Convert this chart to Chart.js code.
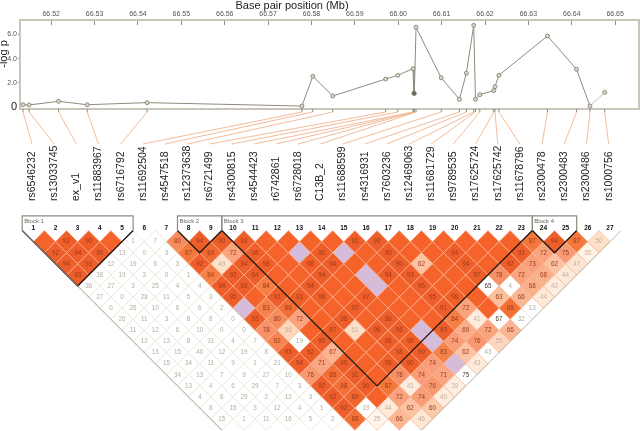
<!DOCTYPE html>
<html>
<head>
<meta charset="utf-8">
<script src="https://cdn.jsdelivr.net/npm/chart.js@4/dist/chart.umd.min.js"></script>
<style>
  html, body { margin: 0; background: #fff; }
  #wrap { position: relative; width: 640px; height: 431px; overflow: hidden; }
  canvas { position: absolute; left: 0; top: 0; }
</style>
</head>
<body>
<div id="wrap">
  <canvas id="assoc" width="640" height="431"></canvas>
  <canvas id="ld" width="640" height="431"></canvas>
</div>
<script>
const snpNames = ['rs6546232', 'rs13033745', 'ex_v1', 'rs11883967', 'rs6716792', 'rs11692504', 'rs4547518',
  'rs12373638', 'rs6721499', 'rs4300815', 'rs4544423', 'r6742861', 'rs6728018', 'C13B_2', 'rs11688599',
  'rs4316931', 'rs7603236', 'rs12469063', 'rs11681729', 'rs9789535', 'rs17625724', 'rs17625742',
  'rs11678796', 'rs2300478', 'rs2300483', 'rs2300486', 'rs1000756'];
const positionsMb = [66.5135, 66.5149, 66.5217, 66.5283, 66.5421, 66.5778, 66.5803, 66.5849, 66.5971,
  66.5999, 66.6034, 66.6036, 66.6037, 66.6041, 66.6099, 66.6141, 66.6157, 66.6174, 66.6178, 66.6188,
  66.6220, 66.6223, 66.6232, 66.6344, 66.6411, 66.6442, 66.6476];
const logP = [0.19, 0.17, 0.47, 0.19, 0.36, 0.08, 2.54, 0.91, 2.31, 2.62, 3.17, 1.13, 1.12, 6.59, 2.42,
  0.64, 2.79, 6.75, 0.64, 1.02, 1.35, 1.68, 2.62, 5.87, 3.12, 0.08, 1.21];

// D' values by distance between markers, first cell of each row is marker 1. 100 has no printed number
const ldRow1 = [100, 92, 90, 100, 1, 7, 80, 94, 90, 93, 100, 100, 100, 100, 91, 93, 100, 100, 100, 100, 100, 100, 87, 94, 87, 50];
const ldRow2 = [92, 94, 90, 13, 0, 3, 87, 89, 72, 98, 100, 100, 90, 100, 100, 90, 100, 100, 94, 100, 100, 92, 72, 75, 35];
const ldRow3 = [94, 93, 12, 19, 6, 3, 92, 49, 94, 98, 100, 98, 94, 100, 100, 90, 62, 100, 94, 100, 92, 73, 62, 47];
const ldRow4 = [93, 36, 19, 3, 0, 1, 84, 93, 94, 100, 100, 94, 100, 100, 94, 93, 100, 100, 97, 78, 72, 68, 44];
const ldRow5 = [36, 27, 3, 25, 4, 4, 94, 93, 84, 100, 94, 100, 100, 100, 100, 95, 100, 100, 65, 4, 68, 42];
const ldRow6 = [27, 0, 28, 11, 5, 3, 95, 100, 91, 91, 98, 100, 97, 100, 100, 95, 98, 100, 63, 66, 44];
const ldRow7 = [0, 26, 10, 6, 6, 2, 100, 83, 88, 100, 100, 97, 100, 100, 100, 91, 72, 100, 88, 13];
const ldRow8 = [26, 11, 3, 8, 8, 0, 93, 80, 72, 100, 96, 100, 96, 100, 100, 84, 41, 67, 32];
const ldRow9 = [11, 12, 6, 10, 0, 0, 78, 56, 100, 97, 51, 96, 96, 100, 93, 69, 72, 66];
const ldRow10 = [12, 13, 8, 31, 4, 7, 82, 19, 90, 100, 100, 96, 98, 100, 74, 76, 55];
const ldRow11 = [13, 15, 40, 12, 19, 8, 93, 92, 67, 100, 100, 98, 90, 83, 62, 43];
const ldRow12 = [15, 34, 11, 9, 1, 21, 94, 71, 90, 100, 96, 90, 74, 100, 43];
const ldRow13 = [34, 13, 7, 9, 27, 10, 76, 88, 91, 100, 78, 74, 71, 75];
const ldRow14 = [13, 4, 6, 29, 7, 3, 92, 88, 90, 87, 41, 76, 39];
const ldRow15 = [4, 8, 29, 2, 12, 3, 92, 89, 100, 72, 74, 40];
const ldRow16 = [8, 15, 3, 12, 4, 1, 92, 19, 44, 62, 60];
const ldRow17 = [15, 1, 11, 16, 5, 2, 88, 25, 66, 46];
const ldRows = [ldRow1, ldRow2, ldRow3, ldRow4, ldRow5, ldRow6, ldRow7, ldRow8, ldRow9, ldRow10,
  ldRow11, ldRow12, ldRow13, ldRow14, ldRow15, ldRow16, ldRow17];

// cells that break the colour ramp
const lilacCells = ['12-14', '14-16', '14-18', '14-19', '7-14', '14-23', '14-24', '14-26'];
const whiteCells = ['8-18', '8-24', '19-24', '20-25', '18-26', '14-27', '20-27', '19-27', '16-27'];

const blockNames = ['Block 1', 'Block 2', 'Block 3', 'Block 4'];
const blockStart = [1, 8, 10, 24];
const blockEnd = [5, 9, 23, 25];

const FONT = '"Liberation Sans", Arial, sans-serif';
const rampStops = [[30, [255, 246, 238]], [44, [254, 234, 217]], [50, [254, 224, 200]], [56, [253, 214, 188]],
  [62, [252, 195, 163]], [68, [251, 176, 140]], [72, [249, 163, 127]], [78, [247, 146, 104]], [84, [246, 127, 69]],
  [87, [244, 120, 60]], [90, [238, 94, 42]], [96, [238, 94, 42]], [100, [245, 98, 42]]];

function rampColor(v) {
  if (v <= rampStops[0][0]) return 'rgb(' + rampStops[0][1].join(',') + ')';
  for (let k = 1; k < rampStops.length; k++) {
    if (v <= rampStops[k][0]) {
      const a = rampStops[k - 1], b = rampStops[k];
      const t = (v - a[0]) / (b[0] - a[0]);
      return 'rgb(' + a[1].map((c, n) => Math.round(c + (b[1][n] - c) * t)).join(',') + ')';
    }
  }
}

// build heatmap points from the rows
const cells = [];
ldRows.forEach((row, r) => {
  row.forEach((v, n) => {
    const i = n + 1, j = i + r + 1;
    const id = i + '-' + j;
    const plain = whiteCells.includes(id) || (i < 8 && v < 50);
    let fill = plain ? '#ffffff' : rampColor(v);
    if (lilacCells.includes(id)) fill = '#d6bcdb';
    cells.push({ x: (i + j) / 2, y: r + 1, v: v, fill: fill, plain: plain, lilac: lilacCells.includes(id) });
  });
});
// white cells go on top so their beige outline stays whole
cells.sort((a, b) => (b.plain ? 1 : 0) - (a.plain ? 1 : 0));

function tint(c) {
  if (c.lilac) return null;
  if (c.plain) return c.v >= 50 ? '#4a4038' : '#b3aea2';
  if (c.v >= 60) return '#9a3a1a';
  return '#c4b09c';
}

const isZero = c => !!c.tick && c.tick.value === 0;

const assocFrame = {
  id: 'assocFrame',
  beforeDatasetsDraw(chart) {
    const a = chart.chartArea, ctx = chart.ctx;
    ctx.save();
    ctx.strokeStyle = '#c9c5b8';
    ctx.lineWidth = 2;
    ctx.strokeRect(a.left, a.top, a.right - a.left, a.bottom - a.top);
    ctx.restore();
  },
  afterDraw(chart) {
    const ctx = chart.ctx;
    ctx.save();
    ctx.fillStyle = '#222';
    ctx.font = '11px ' + FONT;
    ctx.textAlign = 'center';
    ctx.textBaseline = 'alphabetic';
    ctx.fillText('Base pair position (Mb)', 292, 9);
    ctx.translate(7, 54);
    ctx.rotate(-Math.PI / 2);
    ctx.fillText('-log p', 0, 0);
    ctx.restore();
  }
};

const assocChart = new Chart(document.getElementById('assoc'), {
  type: 'scatter',
  data: {
    datasets: [{
      data: positionsMb.map((x, k) => ({ x: x, y: logP[k] })),
      showLine: true,
      borderColor: '#8f8a7c',
      borderWidth: 1,
      tension: 0,
      pointRadius: 2,
      pointBorderWidth: 0.8,
      pointBorderColor: '#7d7869',
      pointBackgroundColor: positionsMb.map((x, k) => (k === 11 || k === 12) ? '#6b665a' : '#d9d5c9'),
      segment: { borderColor: c => c.p0DataIndex === 25 ? '#c4c0b4' : undefined }
    }]
  },
  options: {
    responsive: false,
    animation: false,
    layout: { autoPadding: false, padding: { left: 0, top: 0, right: 1, bottom: 322 } },
    plugins: { legend: { display: false }, tooltip: { enabled: false } },
    scales: {
      x: {
        type: 'linear',
        position: 'top',
        min: 66.5128,
        max: 66.6555,
        afterFit(s) { s.height = 20; s.paddingLeft = 0; s.paddingRight = 0; },
        border: { display: false },
        grid: { drawOnChartArea: false, tickLength: -5, tickColor: '#8f8a7c', tickWidth: 1 },
        ticks: {
          stepSize: 0.01, includeBounds: false, autoSkip: false, maxRotation: 0, padding: 7,
          color: '#555', font: { size: 7, family: FONT },
          callback: v => v.toFixed(2)
        }
      },
      y: {
        min: -0.165,
        max: 7.19,
        afterFit(s) { s.width = 20; s.paddingTop = 0; s.paddingBottom = 0; },
        border: { display: false },
        grid: {
          drawOnChartArea: false, tickLength: 2, tickWidth: 1,
          tickColor: c => isZero(c) ? 'rgba(0,0,0,0)' : '#8f8a7c'
        },
        ticks: {
          stepSize: 2, includeBounds: false, padding: 1,
          color: c => isZero(c) ? '#222' : '#555',
          font: c => ({ size: isZero(c) ? 11 : 7, family: FONT }),
          callback: v => v === 0 ? '0' : v.toFixed(1)
        }
      }
    }
  },
  plugins: [assocFrame]
});

const ldLabels = {
  id: 'ldLabels',
  beforeDatasetsDraw(chart) {
    // connectors from base pair position down to the marker name
    const ctx = chart.ctx, mb = assocChart.scales.x, bottom = assocChart.chartArea.bottom;
    const xs = chart.scales.x;
    ctx.save();
    positionsMb.forEach((p, k) => {
      const px = mb.getPixelForValue(p);
      ctx.strokeStyle = '#f0b48e';
      ctx.lineWidth = 0.9;
      ctx.beginPath();
      ctx.moveTo(px, bottom + 3);
      ctx.lineTo(xs.getPixelForValue(k + 1) - 1.3, 144);
      ctx.stroke();
      ctx.strokeStyle = '#8f8a7c';
      ctx.lineWidth = 1;
      ctx.beginPath();
      ctx.moveTo(px, bottom);
      ctx.lineTo(px, bottom + 3);
      ctx.stroke();
    });
    ctx.restore();
  },
  afterDatasetsDraw(chart) {
    const ctx = chart.ctx, xs = chart.scales.x, ys = chart.scales.y;
    ctx.save();
    // marker names
    ctx.fillStyle = '#222';
    ctx.font = '10.5px ' + FONT;
    ctx.textAlign = 'left';
    ctx.textBaseline = 'middle';
    snpNames.forEach((name, k) => {
      ctx.save();
      ctx.translate(xs.getPixelForValue(k + 1) - 1.3, 201);
      ctx.rotate(-Math.PI / 2);
      ctx.fillText(name, 0, 0);
      ctx.restore();
    });
    // marker numbers
    ctx.font = 'bold 6.5px ' + FONT;
    ctx.textAlign = 'center';
    ctx.fillStyle = '#111';
    snpNames.forEach((name, k) => ctx.fillText(String(k + 1), xs.getPixelForValue(k + 1), 228.5));
    // block names
    ctx.font = '6px ' + FONT;
    ctx.textAlign = 'left';
    ctx.fillStyle = '#666';
    blockNames.forEach((name, k) => ctx.fillText(name, xs.getPixelForValue(blockStart[k] - 0.5) + 2, 221));
    // D' numbers
    ctx.font = '6.3px ' + FONT;
    ctx.textAlign = 'center';
    cells.forEach(c => {
      const col = tint(c);
      if (c.v === 100 || !col) return;
      ctx.fillStyle = col;
      ctx.fillText(String(c.v), xs.getPixelForValue(c.x), ys.getPixelForValue(c.y));
    });
    ctx.restore();
  }
};

function outline(points, color, width) {
  return {
    type: 'scatter', data: points, showLine: true, pointRadius: 0, borderColor: color,
    borderWidth: width, tension: 0, clip: false
  };
}

const blockTopRow = -1.32;
const lineSets = [
  outline([{ x: 0.5, y: 0 }, { x: 9.5, y: 18 }], '#a5a091', 1),
  outline([{ x: 27.5, y: 0 }, { x: 18.5, y: 18 }], '#bcb7a8', 1)
];
blockStart.forEach((a, k) => {
  const b = blockEnd[k], left = a - 0.5, right = b + 0.5;
  lineSets.push(outline([{ x: left, y: 0 }, { x: left, y: blockTopRow }, { x: right, y: blockTopRow }, { x: right, y: 0 }], '#8f8a7c', 1.2));
  lineSets.push(outline([{ x: left, y: 0 }, { x: (a + b) / 2, y: b - a + 1 }, { x: right, y: 0 }], '#1c140c', 1.3));
});

new Chart(document.getElementById('ld'), {
  type: 'scatter',
  data: {
    datasets: lineSets.concat([{
      data: cells.map(c => ({ x: c.x, y: c.y })),
      pointStyle: 'rectRot',
      pointRadius: 11.09,
      pointBorderWidth: 0.7,
      pointBackgroundColor: cells.map(c => c.fill),
      pointBorderColor: cells.map(c => c.plain ? '#e6e1d0' : '#f9b393'),
      clip: false
    }])
  },
  options: {
    responsive: false,
    animation: false,
    layout: { autoPadding: false, padding: 0 },
    plugins: { legend: { display: false }, tooltip: { enabled: false } },
    scales: {
      x: { type: 'linear', display: false, min: -0.5014, max: 28.354 },
      y: { type: 'linear', display: false, reverse: true, min: -20.79, max: 18.07 }
    }
  },
  plugins: [ldLabels]
});
</script>
</body>
</html>
